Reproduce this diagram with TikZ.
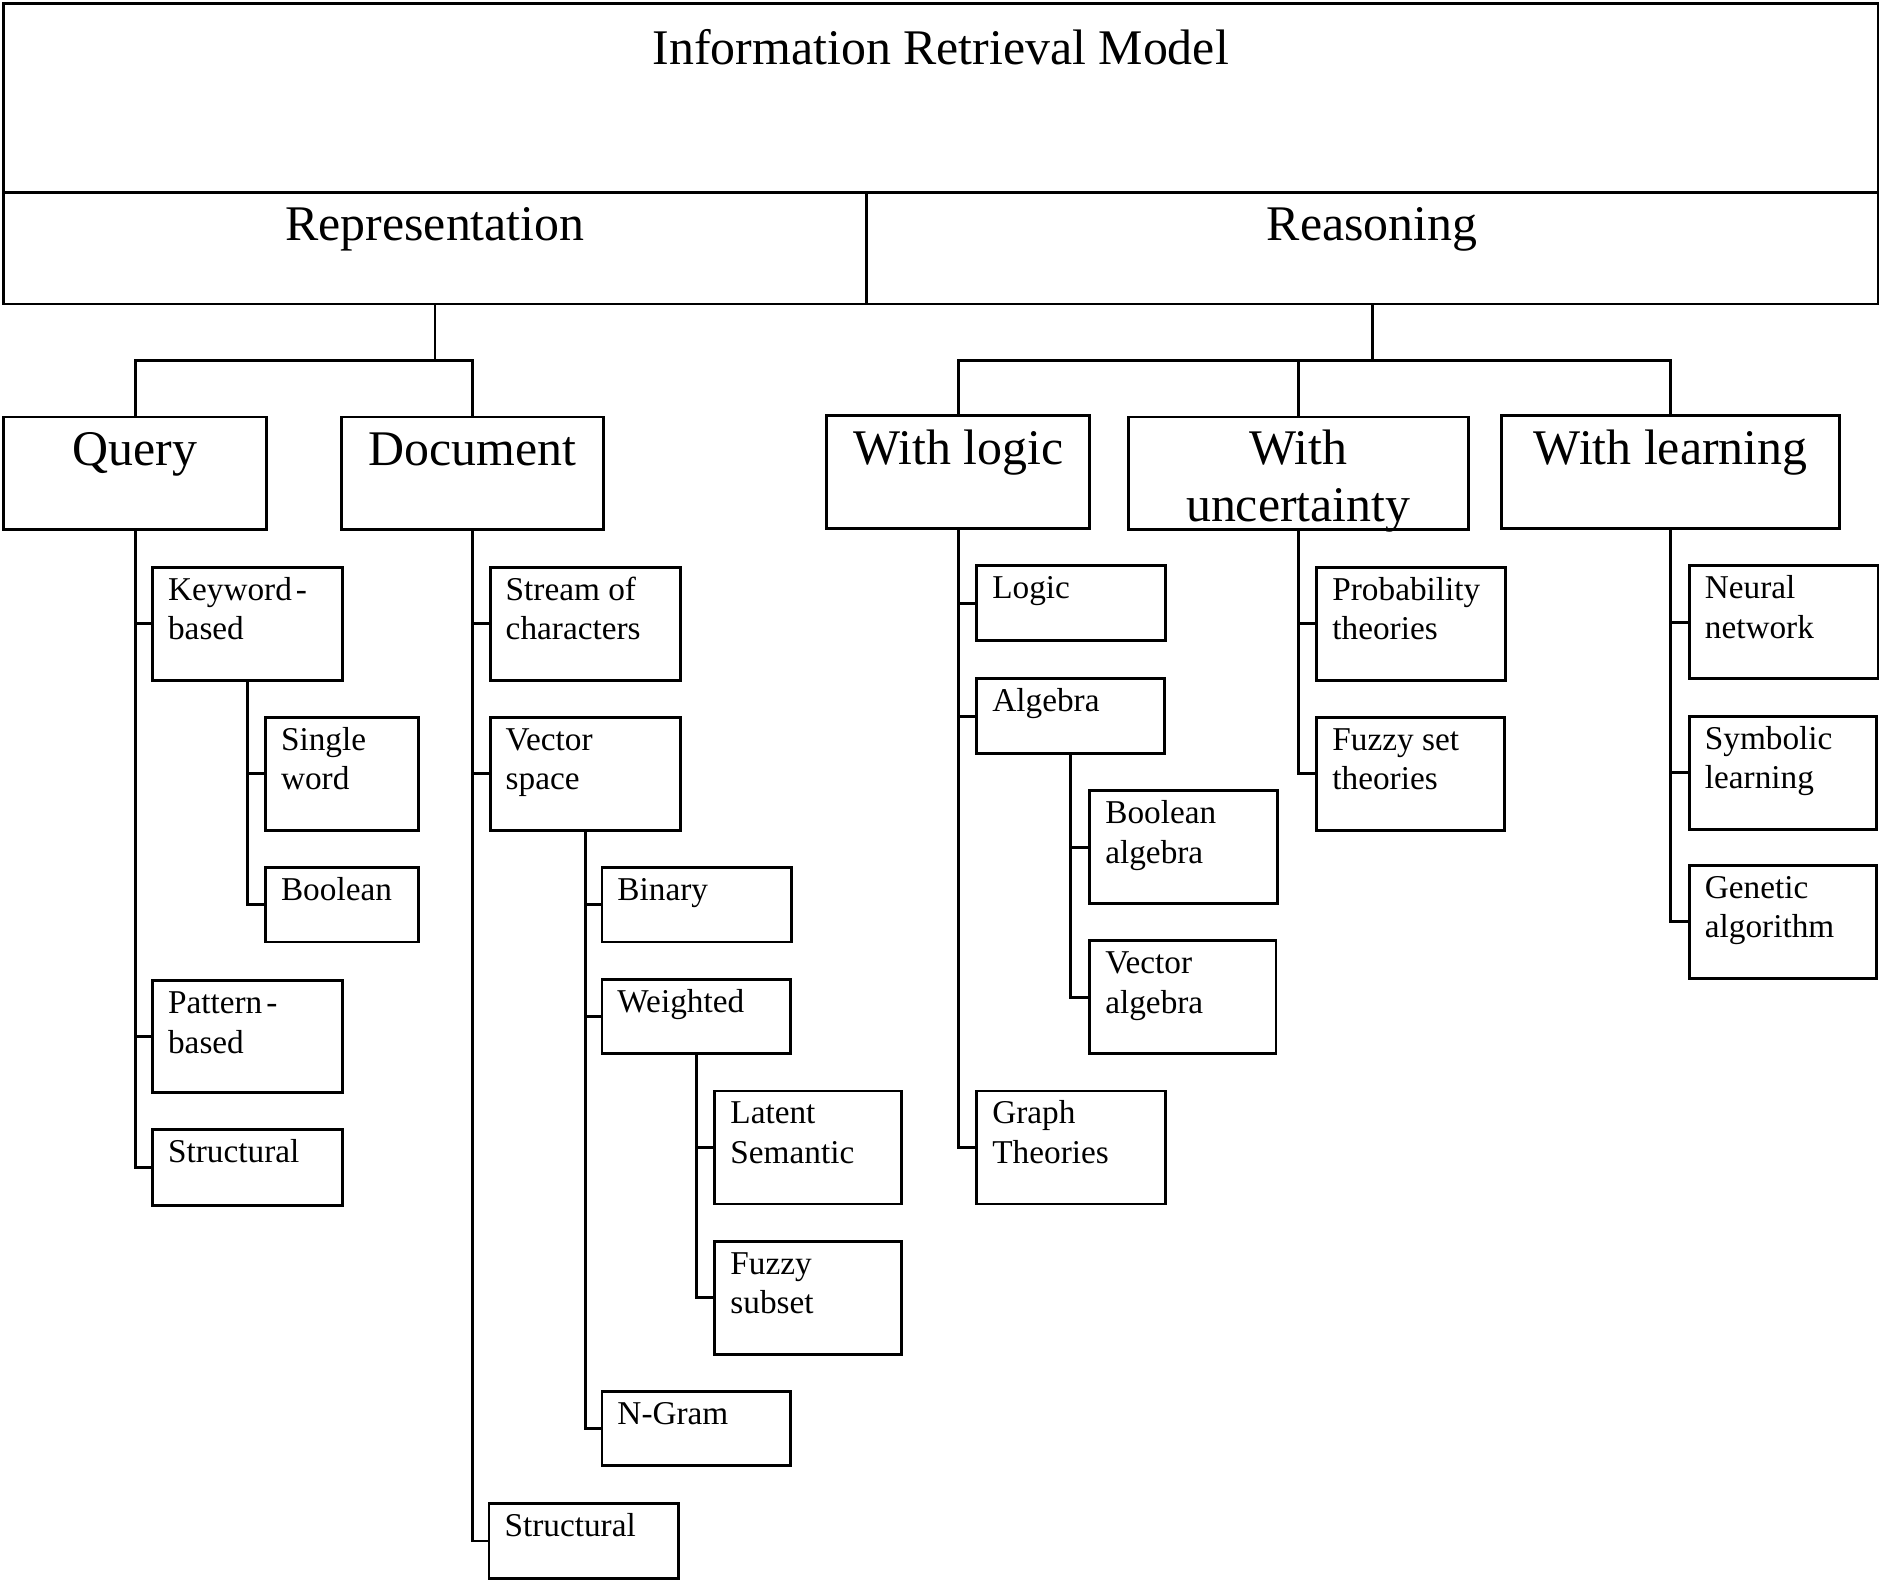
\documentclass[tikz,border=0pt]{standalone}
\usepackage{fontspec}
\setmainfont{Liberation Serif}
\usetikzlibrary{fit}
\tikzset{
  boxfit/.style={draw, line width=1.2pt, inner sep=0pt},
  stext/.style={anchor=north west, inner sep=0pt, align=left, font=\fontsize{13.85pt}{16.5pt}\selectfont},
  ltext/.style={anchor=north, inner sep=0pt, align=center, font=\fontsize{20.75pt}{23.5pt}\selectfont},
  conn/.style={line width=1.2pt},
}
\newcommand\irbox[6]{%
  \node[boxfit, fit={(#2,#3) (#4,#5)}] (#1) {};
  \node[stext] (#1t) at (#2+12.5,#3-0.7) {\rule{0pt}{1em}#6};
}
\newcommand\irbig[5]{%
  \node[boxfit, fit={(#2,#3) (#4,#5)}] (#1) {};
}
\newcommand\irlabel[4]{\node[ltext] (#1) at (#2,#3) {\rule{0pt}{1em}#4};}
\begin{document}
\begin{tikzpicture}[x=0.5pt,y=-0.5pt]
\useasboundingbox[fill=white] (0,0) rectangle (1568,1318.3);
% top boxes
\irbig{title}{3}{3}{1563}{160}
\irbig{rep}{3}{160}{721}{253}
\irbig{rea}{721}{160}{1563}{253}
\irlabel{titlet}{783}{11.5}{Information Retrieval Model}
\irlabel{rept}{362}{158.5}{Representation}
\irlabel{reat}{1142}{158.5}{Reasoning}
% level 2
\irbig{query}{3}{347}{222}{441}
\irbig{doc}{284}{347}{502}{441}
\irbig{logic}{688}{346}{907}{440}
\irbig{uncert}{939}{347}{1222}{441}
\irbig{learn}{1250}{346}{1531}{440}
\irlabel{queryt}{112.5}{345.5}{Query}
\irlabel{doct}{393}{345.5}{Document}
\irlabel{logict}{797.5}{344.5}{With logic}
\irlabel{uncertt}{1080.5}{345}{With\\uncertainty}
\irlabel{learnt}{1390.5}{344.5}{With learning}
% level 3 and below
\irbox{kw}{127}{472}{285}{566}{Keyword\kern0.12em-\\based}
\irbox{sw}{221}{597}{348}{691}{Single\\word}
\irbox{bo}{221}{722}{348}{784}{Boolean}
\irbox{pb}{127}{816}{285}{909}{Pattern\kern0.12em-\\based}
\irbox{qs}{127}{940}{285}{1003}{Structural}
\irbox{sc}{408}{472}{566}{566}{Stream of\\characters}
\irbox{vs}{408}{597}{566}{691}{Vector\\space}
\irbox{bi}{501}{722}{659}{784}{Binary}
\irbox{we}{501}{815}{658}{877}{Weighted}
\irbox{ls}{595}{908}{750}{1002}{Latent\\Semantic}
\irbox{fs}{595}{1033}{750}{1127}{Fuzzy\\subset}
\irbox{ng}{501}{1158}{658}{1220}{N-Gram}
\irbox{ds}{407}{1251}{565}{1314}{Structural}
\irbox{lo}{813}{471}{970}{533}{Logic}
\irbox{al}{813}{565}{969}{627}{Algebra}
\irbox{ba}{907}{658}{1063}{752}{Boolean\\algebra}
\irbox{va}{907}{783}{1062}{877}{Vector\\algebra}
\irbox{gt}{813}{908}{970}{1002}{Graph\\Theories}
\irbox{pt}{1096}{472}{1253}{566}{Probability\\theories}
\irbox{fst}{1096}{597}{1252}{691}{Fuzzy set\\theories}
\irbox{nn}{1406}{471}{1563}{565}{Neural\\network}
\irbox{sl}{1406}{596}{1562}{690}{Symbolic\\learning}
\irbox{ga}{1406}{720}{1562}{814}{Genetic\\algorithm}
% connectors top
\coordinate (repj) at (362,300);
\coordinate (reaj) at (1142,300);
\draw[conn] (rep.south) -- (repj);
\draw[conn] (query.north) |- (repj) -| (doc.north);
\draw[conn] (rea.south) -- (reaj);
\draw[conn] (logic.north) |- (reaj) -| (learn.north);
\draw[conn] (uncert.north) -- (uncert.north |- reaj);
% trees
\foreach \c in {kw,pb,qs} \draw[conn] (query.south) |- (\c.west);
\foreach \c in {sw,bo} \draw[conn] (kw.south) |- (\c.west);
\foreach \c in {sc,vs,ds} \draw[conn] (doc.south) |- (\c.west);
\foreach \c in {bi,we,ng} \draw[conn] (vs.south) |- (\c.west);
\foreach \c in {ls,fs} \draw[conn] (we.south) |- (\c.west);
\foreach \c in {lo,al,gt} \draw[conn] (logic.south) |- (\c.west);
\foreach \c in {ba,va} \draw[conn] (al.south) |- (\c.west);
\foreach \c in {pt,fst} \draw[conn] (uncert.south) |- (\c.west);
\foreach \c in {nn,sl,ga} \draw[conn] (learn.south) |- (\c.west);
\end{tikzpicture}
\end{document}
